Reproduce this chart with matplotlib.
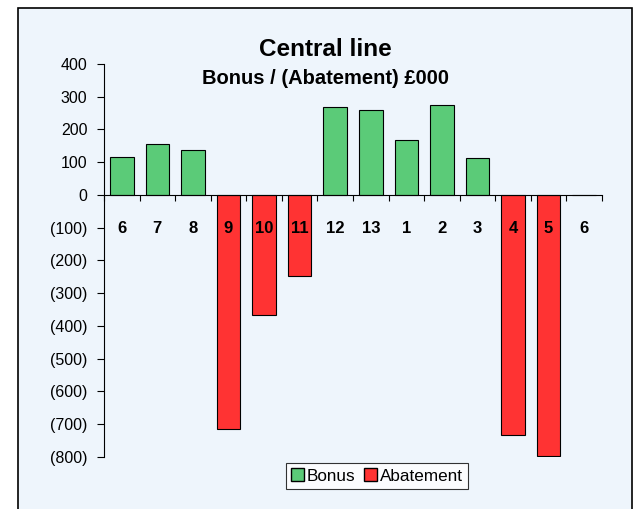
import numpy as np
import matplotlib.pyplot as plt
from matplotlib.patches import Rectangle, Patch

periods = ['6', '7', '8', '9', '10', '11', '12', '13', '1', '2', '3', '4', '5', '6']
values = [117, 157, 137, -713, -365, -247, 268, 259, 167, 274, 112, -733, -798, 0]

green = '#5BCB78'
red = '#FF3333'
bg = '#EEF5FC'

plt.rcParams['font.family'] = ['Liberation Sans', 'DejaVu Sans']

fig = plt.figure(figsize=(6.34, 5.09), dpi=100)
fig.patch.set_facecolor('white')
# outer chart frame
fig.patches.append(Rectangle((18 / 634, -0.05), (632 - 18) / 634, 1 - 8 / 509 + 0.05,
                             transform=fig.transFigure, facecolor=bg, edgecolor='black',
                             linewidth=1.2, zorder=-10))

ax = fig.add_axes([104 / 634, 1 - 457 / 509, (602 - 104) / 634, (457 - 64) / 509])
ax.set_facecolor('none')
ax.set_zorder(2)

x = np.arange(len(values))
colors = [green if v >= 0 else red for v in values]
ax.bar(x, values, width=0.66, color=colors, edgecolor='black', linewidth=0.8, zorder=2)

for xi, lab in zip(x, periods):
    ax.text(xi, -102, lab, ha='center', va='center', fontsize=12, fontweight='bold', zorder=3)

ax.set_xlim(-0.5, len(values) - 0.5)
ax.set_ylim(-800, 400)
ax.set_yticks(np.arange(-800, 401, 100))
ax.set_yticklabels([f'({abs(v)})' if v < 0 else f'{v}' for v in range(-800, 401, 100)], fontsize=11.5)

ax.spines['top'].set_visible(False)
ax.spines['right'].set_visible(False)
ax.spines['bottom'].set_position(('data', 0))
ax.spines['bottom'].set_zorder(4)
ax.set_xticks(np.arange(-0.5, len(values), 1.0))
ax.set_xticklabels([])
ax.tick_params(axis='x', direction='out', length=4, width=0.8)
ax.tick_params(axis='y', direction='out', length=5, width=0.8, pad=7)

fig.text(325 / 634, 1 - 49 / 509, 'Central line', ha='center', va='center',
         fontsize=17.5, fontweight='bold')
fig.text(325 / 634, 1 - 78 / 509, 'Bonus / (Abatement) £000', ha='center', va='center',
         fontsize=14.5, fontweight='bold')

handles = [Patch(facecolor=green, edgecolor='black', label='Bonus'),
           Patch(facecolor=red, edgecolor='black', label='Abatement')]
leg = fig.legend(handles=handles, loc='center', bbox_to_anchor=(377 / 634, 1 - 476 / 509),
                 ncol=2, frameon=True, fancybox=False, fontsize=12.3, handlelength=0.75,
                 handleheight=0.75, handletextpad=0.2, columnspacing=0.5, borderpad=0.3)
leg.get_frame().set_edgecolor('black')
leg.get_frame().set_facecolor('white')
leg.get_frame().set_linewidth(0.8)

fig.savefig('out.png', dpi=100)
